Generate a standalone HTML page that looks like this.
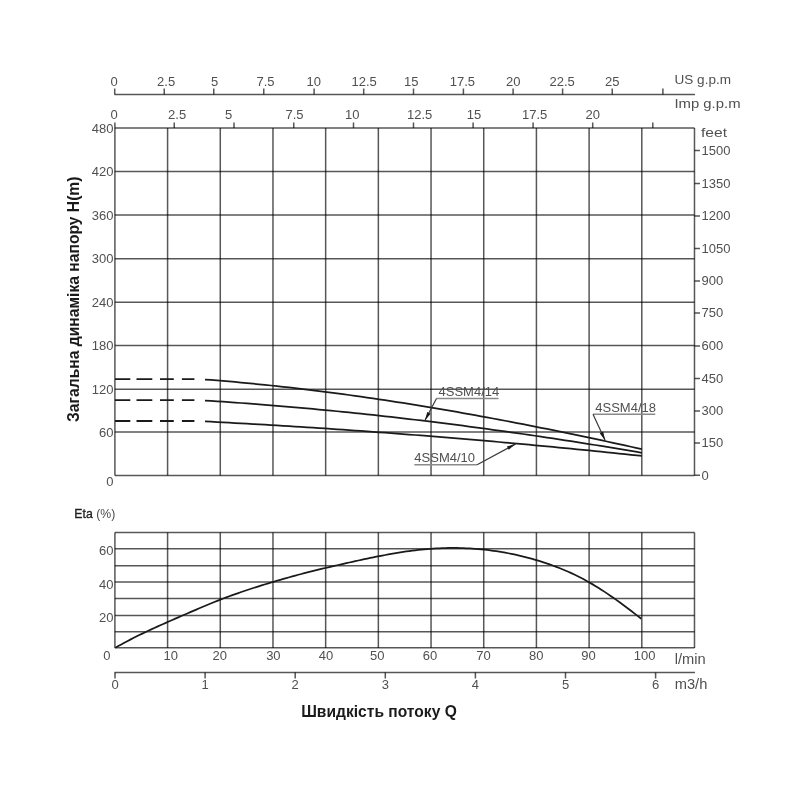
<!DOCTYPE html><html><head><meta charset="utf-8"><style>html,body{margin:0;padding:0;background:#fff;}svg{display:block;will-change:transform}</style></head><body>
<svg width="800" height="800" viewBox="0 0 800 800">
<rect width="800" height="800" fill="#fff"/>
<path d="M114.90 128.00V475.40M114.90 532.50V648.00M167.59 128.00V475.40M167.59 532.50V648.00M220.28 128.00V475.40M220.28 532.50V648.00M272.97 128.00V475.40M272.97 532.50V648.00M325.66 128.00V475.40M325.66 532.50V648.00M378.35 128.00V475.40M378.35 532.50V648.00M431.04 128.00V475.40M431.04 532.50V648.00M483.73 128.00V475.40M483.73 532.50V648.00M536.42 128.00V475.40M536.42 532.50V648.00M589.11 128.00V475.40M589.11 532.50V648.00M641.80 128.00V475.40M641.80 532.50V648.00M694.49 128.00V475.40M694.49 532.50V648.00M114.70 94.5v-6M164.25 94.5v-6M213.75 94.5v-6M263.75 94.5v-6M314.10 94.5v-6M363.70 94.5v-6M413.50 94.5v-6M463.40 94.5v-6M513.10 94.5v-6M562.60 94.5v-6M612.25 94.5v-6M662.90 94.5v-6M114.90 128.0v-5.5M174.25 128.0v-5.5M234.00 128.0v-5.5M293.75 128.0v-5.5M353.50 128.0v-5.5M413.50 128.0v-5.5M473.10 128.0v-5.5M533.10 128.0v-5.5M592.70 128.0v-5.5M652.80 128.0v-5.5M115.00 672.5v6M205.10 672.5v6M295.20 672.5v6M385.30 672.5v6M475.40 672.5v6M565.50 672.5v6M655.60 672.5v6" stroke="#000" stroke-opacity="0.66" stroke-width="1.5" fill="none"/>
<path d="M114.90 128.00H694.49M114.90 171.60H694.49M114.90 215.10H694.49M114.90 258.70H694.49M114.90 302.30H694.49M114.90 345.60H694.49M114.90 389.20H694.49M114.90 432.10H694.49M114.90 475.40H694.49M114.90 532.50H694.49M114.90 548.85H694.49M114.90 565.80H694.49M114.90 582.10H694.49M114.90 598.40H694.49M114.90 615.40H694.49M114.90 631.80H694.49M114.90 647.80H694.49M114.5 94.5H695M114.5 672.5H695M694.49 475.20h5.5M694.49 443.00h5.5M694.49 411.00h5.5M694.49 378.40h5.5M694.49 346.00h5.5M694.49 313.10h5.5M694.49 281.00h5.5M694.49 248.50h5.5M694.49 216.00h5.5M694.49 183.60h5.5M694.49 150.40h5.5" stroke="#000" stroke-opacity="0.66" stroke-width="1.5" fill="none"/>
<text x="114.05" y="86.30" text-anchor="middle" font-size="13" fill="#505050" font-family="Liberation Sans, sans-serif" >0</text>
<text x="166.10" y="86.30" text-anchor="middle" font-size="13" fill="#505050" font-family="Liberation Sans, sans-serif" >2.5</text>
<text x="214.60" y="86.30" text-anchor="middle" font-size="13" fill="#505050" font-family="Liberation Sans, sans-serif" >5</text>
<text x="265.50" y="86.30" text-anchor="middle" font-size="13" fill="#505050" font-family="Liberation Sans, sans-serif" >7.5</text>
<text x="313.75" y="86.30" text-anchor="middle" font-size="13" fill="#505050" font-family="Liberation Sans, sans-serif" >10</text>
<text x="364.10" y="86.30" text-anchor="middle" font-size="13" fill="#505050" font-family="Liberation Sans, sans-serif" >12.5</text>
<text x="411.25" y="86.30" text-anchor="middle" font-size="13" fill="#505050" font-family="Liberation Sans, sans-serif" >15</text>
<text x="462.40" y="86.30" text-anchor="middle" font-size="13" fill="#505050" font-family="Liberation Sans, sans-serif" >17.5</text>
<text x="513.25" y="86.30" text-anchor="middle" font-size="13" fill="#505050" font-family="Liberation Sans, sans-serif" >20</text>
<text x="562.20" y="86.30" text-anchor="middle" font-size="13" fill="#505050" font-family="Liberation Sans, sans-serif" >22.5</text>
<text x="612.15" y="86.30" text-anchor="middle" font-size="13" fill="#505050" font-family="Liberation Sans, sans-serif" >25</text>
<text x="114.05" y="118.80" text-anchor="middle" font-size="13" fill="#505050" font-family="Liberation Sans, sans-serif" >0</text>
<text x="177.15" y="118.80" text-anchor="middle" font-size="13" fill="#505050" font-family="Liberation Sans, sans-serif" >2.5</text>
<text x="228.70" y="118.80" text-anchor="middle" font-size="13" fill="#505050" font-family="Liberation Sans, sans-serif" >5</text>
<text x="294.50" y="118.80" text-anchor="middle" font-size="13" fill="#505050" font-family="Liberation Sans, sans-serif" >7.5</text>
<text x="352.20" y="118.80" text-anchor="middle" font-size="13" fill="#505050" font-family="Liberation Sans, sans-serif" >10</text>
<text x="419.70" y="118.80" text-anchor="middle" font-size="13" fill="#505050" font-family="Liberation Sans, sans-serif" >12.5</text>
<text x="473.90" y="118.80" text-anchor="middle" font-size="13" fill="#505050" font-family="Liberation Sans, sans-serif" >15</text>
<text x="534.70" y="118.80" text-anchor="middle" font-size="13" fill="#505050" font-family="Liberation Sans, sans-serif" >17.5</text>
<text x="592.65" y="118.80" text-anchor="middle" font-size="13" fill="#505050" font-family="Liberation Sans, sans-serif" >20</text>
<text x="674.50" y="84.00" text-anchor="start" font-size="12.5" fill="#505050" font-family="Liberation Sans, sans-serif" textLength="56.5" lengthAdjust="spacingAndGlyphs">US g.p.m</text>
<text x="674.50" y="108.00" text-anchor="start" font-size="12.5" fill="#505050" font-family="Liberation Sans, sans-serif" textLength="66" lengthAdjust="spacingAndGlyphs">Imp g.p.m</text>
<text x="701.00" y="137.00" text-anchor="start" font-size="12.5" fill="#505050" font-family="Liberation Sans, sans-serif" textLength="26" lengthAdjust="spacingAndGlyphs">feet</text>
<text x="113.50" y="132.60" text-anchor="end" font-size="13" fill="#505050" font-family="Liberation Sans, sans-serif" >480</text>
<text x="113.50" y="176.20" text-anchor="end" font-size="13" fill="#505050" font-family="Liberation Sans, sans-serif" >420</text>
<text x="113.50" y="219.70" text-anchor="end" font-size="13" fill="#505050" font-family="Liberation Sans, sans-serif" >360</text>
<text x="113.50" y="263.30" text-anchor="end" font-size="13" fill="#505050" font-family="Liberation Sans, sans-serif" >300</text>
<text x="113.50" y="306.90" text-anchor="end" font-size="13" fill="#505050" font-family="Liberation Sans, sans-serif" >240</text>
<text x="113.50" y="350.20" text-anchor="end" font-size="13" fill="#505050" font-family="Liberation Sans, sans-serif" >180</text>
<text x="113.50" y="393.80" text-anchor="end" font-size="13" fill="#505050" font-family="Liberation Sans, sans-serif" >120</text>
<text x="113.50" y="436.70" text-anchor="end" font-size="13" fill="#505050" font-family="Liberation Sans, sans-serif" >60</text>
<text x="113.50" y="486.30" text-anchor="end" font-size="13" fill="#505050" font-family="Liberation Sans, sans-serif" >0</text>
<text x="701.50" y="479.50" text-anchor="start" font-size="13" fill="#505050" font-family="Liberation Sans, sans-serif" >0</text>
<text x="701.50" y="447.30" text-anchor="start" font-size="13" fill="#505050" font-family="Liberation Sans, sans-serif" >150</text>
<text x="701.50" y="415.30" text-anchor="start" font-size="13" fill="#505050" font-family="Liberation Sans, sans-serif" >300</text>
<text x="701.50" y="382.70" text-anchor="start" font-size="13" fill="#505050" font-family="Liberation Sans, sans-serif" >450</text>
<text x="701.50" y="350.30" text-anchor="start" font-size="13" fill="#505050" font-family="Liberation Sans, sans-serif" >600</text>
<text x="701.50" y="317.40" text-anchor="start" font-size="13" fill="#505050" font-family="Liberation Sans, sans-serif" >750</text>
<text x="701.50" y="285.30" text-anchor="start" font-size="13" fill="#505050" font-family="Liberation Sans, sans-serif" >900</text>
<text x="701.50" y="252.80" text-anchor="start" font-size="13" fill="#505050" font-family="Liberation Sans, sans-serif" >1050</text>
<text x="701.50" y="220.30" text-anchor="start" font-size="13" fill="#505050" font-family="Liberation Sans, sans-serif" >1200</text>
<text x="701.50" y="187.90" text-anchor="start" font-size="13" fill="#505050" font-family="Liberation Sans, sans-serif" >1350</text>
<text x="701.50" y="154.70" text-anchor="start" font-size="13" fill="#505050" font-family="Liberation Sans, sans-serif" >1500</text>
<text x="113.50" y="555.45" text-anchor="end" font-size="13" fill="#505050" font-family="Liberation Sans, sans-serif" >60</text>
<text x="113.50" y="588.70" text-anchor="end" font-size="13" fill="#505050" font-family="Liberation Sans, sans-serif" >40</text>
<text x="113.50" y="622.00" text-anchor="end" font-size="13" fill="#505050" font-family="Liberation Sans, sans-serif" >20</text>
<text x="110.50" y="660.20" text-anchor="end" font-size="13" fill="#505050" font-family="Liberation Sans, sans-serif" >0</text>
<text x="170.69" y="659.60" text-anchor="middle" font-size="13" fill="#505050" font-family="Liberation Sans, sans-serif" >10</text>
<text x="219.78" y="659.60" text-anchor="middle" font-size="13" fill="#505050" font-family="Liberation Sans, sans-serif" >20</text>
<text x="273.37" y="659.60" text-anchor="middle" font-size="13" fill="#505050" font-family="Liberation Sans, sans-serif" >30</text>
<text x="325.91" y="659.60" text-anchor="middle" font-size="13" fill="#505050" font-family="Liberation Sans, sans-serif" >40</text>
<text x="377.35" y="659.60" text-anchor="middle" font-size="13" fill="#505050" font-family="Liberation Sans, sans-serif" >50</text>
<text x="430.04" y="659.60" text-anchor="middle" font-size="13" fill="#505050" font-family="Liberation Sans, sans-serif" >60</text>
<text x="483.48" y="659.60" text-anchor="middle" font-size="13" fill="#505050" font-family="Liberation Sans, sans-serif" >70</text>
<text x="536.17" y="659.60" text-anchor="middle" font-size="13" fill="#505050" font-family="Liberation Sans, sans-serif" >80</text>
<text x="588.51" y="659.60" text-anchor="middle" font-size="13" fill="#505050" font-family="Liberation Sans, sans-serif" >90</text>
<text x="644.65" y="659.60" text-anchor="middle" font-size="13" fill="#505050" font-family="Liberation Sans, sans-serif" >100</text>
<text x="674.75" y="664.00" text-anchor="start" font-size="14" fill="#505050" font-family="Liberation Sans, sans-serif" textLength="31" lengthAdjust="spacingAndGlyphs">l/min</text>
<text x="115.00" y="688.60" text-anchor="middle" font-size="13" fill="#505050" font-family="Liberation Sans, sans-serif" >0</text>
<text x="205.10" y="688.60" text-anchor="middle" font-size="13" fill="#505050" font-family="Liberation Sans, sans-serif" >1</text>
<text x="295.20" y="688.60" text-anchor="middle" font-size="13" fill="#505050" font-family="Liberation Sans, sans-serif" >2</text>
<text x="385.30" y="688.60" text-anchor="middle" font-size="13" fill="#505050" font-family="Liberation Sans, sans-serif" >3</text>
<text x="475.40" y="688.60" text-anchor="middle" font-size="13" fill="#505050" font-family="Liberation Sans, sans-serif" >4</text>
<text x="565.50" y="688.60" text-anchor="middle" font-size="13" fill="#505050" font-family="Liberation Sans, sans-serif" >5</text>
<text x="655.60" y="688.60" text-anchor="middle" font-size="13" fill="#505050" font-family="Liberation Sans, sans-serif" >6</text>
<text x="674.75" y="689.20" text-anchor="start" font-size="14" fill="#505050" font-family="Liberation Sans, sans-serif" textLength="32.6" lengthAdjust="spacingAndGlyphs">m3/h</text>
<text x="74.3" y="518.3" font-size="13" font-family="Liberation Sans, sans-serif" textLength="41" lengthAdjust="spacingAndGlyphs"><tspan fill="#1e1e1e" stroke="#1e1e1e" stroke-width="0.35">Eta</tspan><tspan fill="#4a4a4a"> (%)</tspan></text>
<text x="0" y="0" transform="translate(78.5 422) rotate(-90)" font-size="16" font-weight="bold" fill="#1a1a1a" font-family="Liberation Sans, sans-serif" textLength="245.5" lengthAdjust="spacingAndGlyphs">Загальна динаміка напору H(m)</text>
<text x="301.2" y="716.6" font-size="16.4" font-weight="bold" fill="#1a1a1a" font-family="Liberation Sans, sans-serif" textLength="155.6" lengthAdjust="spacingAndGlyphs">Швидкість потоку Q</text>
<path d="M205.00 379.51 L211.00 379.97 L217.00 380.45 L223.00 380.94 L229.00 381.45 L235.00 381.98 L241.00 382.53 L247.00 383.09 L253.00 383.67 L259.00 384.26 L265.00 384.87 L271.00 385.50 L277.00 386.14 L283.00 386.79 L289.00 387.47 L295.00 388.15 L301.00 388.85 L307.00 389.57 L313.00 390.30 L319.00 391.05 L325.00 391.81 L331.00 392.59 L337.00 393.38 L343.00 394.18 L349.00 395.00 L355.00 395.84 L361.00 396.68 L367.00 397.54 L373.00 398.42 L379.00 399.30 L385.00 400.20 L391.00 401.11 L397.00 402.04 L403.00 402.98 L409.00 403.93 L415.00 404.89 L421.00 405.87 L427.00 406.86 L433.00 407.86 L439.00 408.87 L445.00 409.90 L451.00 410.93 L457.00 411.98 L463.00 413.04 L469.00 414.11 L475.00 415.19 L481.00 416.28 L487.00 417.38 L493.00 418.50 L499.00 419.62 L505.00 420.75 L511.00 421.90 L517.00 423.05 L523.00 424.22 L529.00 425.39 L535.00 426.58 L541.00 427.77 L547.00 428.98 L553.00 430.19 L559.00 431.41 L565.00 432.64 L571.00 433.88 L577.00 435.13 L583.00 436.39 L589.00 437.65 L595.00 438.92 L601.00 440.21 L607.00 441.50 L613.00 442.79 L619.00 444.10 L625.00 445.41 L631.00 446.73 L637.00 448.06 L641.90 449.15" stroke="#1a1a1a" stroke-width="1.75" fill="none" stroke-linejoin="round"/>
<path d="M115 379.11H130.3M136.5 379.11H152.3M160 379.11H173.8M181.9 379.11H194.4" stroke="#1a1a1a" stroke-width="1.9" fill="none"/>
<path d="M205.00 400.57 L211.00 400.95 L217.00 401.34 L223.00 401.74 L229.00 402.15 L235.00 402.57 L241.00 403.00 L247.00 403.44 L253.00 403.90 L259.00 404.36 L265.00 404.83 L271.00 405.31 L277.00 405.80 L283.00 406.30 L289.00 406.81 L295.00 407.33 L301.00 407.87 L307.00 408.41 L313.00 408.96 L319.00 409.52 L325.00 410.08 L331.00 410.66 L337.00 411.25 L343.00 411.85 L349.00 412.46 L355.00 413.07 L361.00 413.70 L367.00 414.33 L373.00 414.98 L379.00 415.63 L385.00 416.30 L391.00 416.97 L397.00 417.65 L403.00 418.34 L409.00 419.04 L415.00 419.75 L421.00 420.47 L427.00 421.19 L433.00 421.93 L439.00 422.67 L445.00 423.42 L451.00 424.19 L457.00 424.96 L463.00 425.74 L469.00 426.52 L475.00 427.32 L481.00 428.13 L487.00 428.94 L493.00 429.76 L499.00 430.59 L505.00 431.43 L511.00 432.28 L517.00 433.14 L523.00 434.00 L529.00 434.87 L535.00 435.75 L541.00 436.64 L547.00 437.54 L553.00 438.45 L559.00 439.36 L565.00 440.28 L571.00 441.21 L577.00 442.15 L583.00 443.09 L589.00 444.05 L595.00 445.01 L601.00 445.98 L607.00 446.95 L613.00 447.94 L619.00 448.93 L625.00 449.93 L631.00 450.94 L637.00 451.95 L641.90 452.79" stroke="#1a1a1a" stroke-width="1.75" fill="none" stroke-linejoin="round"/>
<path d="M115 400.17H130.3M136.5 400.17H152.3M160 400.17H173.8M181.9 400.17H194.4" stroke="#1a1a1a" stroke-width="1.9" fill="none"/>
<path d="M205.00 421.41 L211.00 421.72 L217.00 422.04 L223.00 422.35 L229.00 422.68 L235.00 423.01 L241.00 423.34 L247.00 423.67 L253.00 424.02 L259.00 424.36 L265.00 424.71 L271.00 425.07 L277.00 425.43 L283.00 425.80 L289.00 426.17 L295.00 426.54 L301.00 426.92 L307.00 427.30 L313.00 427.69 L319.00 428.09 L325.00 428.48 L331.00 428.89 L337.00 429.29 L343.00 429.70 L349.00 430.12 L355.00 430.54 L361.00 430.97 L367.00 431.40 L373.00 431.83 L379.00 432.27 L385.00 432.71 L391.00 433.16 L397.00 433.61 L403.00 434.07 L409.00 434.53 L415.00 435.00 L421.00 435.47 L427.00 435.95 L433.00 436.43 L439.00 436.91 L445.00 437.40 L451.00 437.89 L457.00 438.39 L463.00 438.89 L469.00 439.40 L475.00 439.91 L481.00 440.43 L487.00 440.95 L493.00 441.48 L499.00 442.00 L505.00 442.54 L511.00 443.08 L517.00 443.62 L523.00 444.17 L529.00 444.72 L535.00 445.28 L541.00 445.84 L547.00 446.40 L553.00 446.97 L559.00 447.54 L565.00 448.12 L571.00 448.71 L577.00 449.29 L583.00 449.88 L589.00 450.48 L595.00 451.08 L601.00 451.68 L607.00 452.29 L613.00 452.91 L619.00 453.52 L625.00 454.15 L631.00 454.77 L637.00 455.40 L641.90 455.92" stroke="#1a1a1a" stroke-width="1.75" fill="none" stroke-linejoin="round"/>
<path d="M115 421.01H130.3M136.5 421.01H152.3M160 421.01H173.8M181.9 421.01H194.4" stroke="#1a1a1a" stroke-width="1.9" fill="none"/>
<path d="M115.30 647.77 L118.30 646.07 L121.30 644.41 L124.30 642.78 L127.30 641.19 L130.30 639.62 L133.30 638.09 L136.30 636.58 L139.30 635.09 L142.30 633.63 L145.30 632.20 L148.30 630.78 L151.30 629.38 L154.30 628.00 L157.30 626.63 L160.30 625.28 L163.30 623.94 L166.30 622.61 L169.30 621.29 L172.30 619.98 L175.30 618.67 L178.30 617.37 L181.30 616.07 L184.30 614.76 L187.30 613.46 L190.30 612.16 L193.30 610.87 L196.30 609.58 L199.30 608.29 L202.30 607.02 L205.30 605.76 L208.30 604.51 L211.30 603.28 L214.30 602.06 L217.30 600.86 L220.30 599.68 L223.30 598.53 L226.30 597.39 L229.30 596.28 L232.30 595.19 L235.30 594.11 L238.30 593.06 L241.30 592.02 L244.30 591.00 L247.30 590.00 L250.30 589.01 L253.30 588.04 L256.30 587.08 L259.30 586.13 L262.30 585.20 L265.30 584.28 L268.30 583.37 L271.30 582.46 L274.30 581.57 L277.30 580.69 L280.30 579.82 L283.30 578.95 L286.30 578.10 L289.30 577.25 L292.30 576.42 L295.30 575.60 L298.30 574.78 L301.30 573.98 L304.30 573.19 L307.30 572.41 L310.30 571.64 L313.30 570.88 L316.30 570.14 L319.30 569.41 L322.30 568.68 L325.30 567.98 L328.30 567.28 L331.30 566.59 L334.30 565.91 L337.30 565.23 L340.30 564.55 L343.30 563.87 L346.30 563.20 L349.30 562.52 L352.30 561.85 L355.30 561.19 L358.30 560.52 L361.30 559.87 L364.30 559.22 L367.30 558.59 L370.30 557.96 L373.30 557.34 L376.30 556.73 L379.30 556.14 L382.30 555.55 L385.30 554.99 L388.30 554.43 L391.30 553.90 L394.30 553.38 L397.30 552.88 L400.30 552.39 L403.30 551.93 L406.30 551.49 L409.30 551.07 L412.30 550.67 L415.30 550.30 L418.30 549.95 L421.30 549.62 L424.30 549.33 L427.30 549.06 L430.30 548.82 L433.30 548.61 L436.30 548.42 L439.30 548.27 L442.30 548.15 L445.30 548.06 L448.30 547.99 L451.30 547.96 L454.30 547.96 L457.30 547.99 L460.30 548.05 L463.30 548.14 L466.30 548.26 L469.30 548.41 L472.30 548.60 L475.30 548.81 L478.30 549.06 L481.30 549.33 L484.30 549.64 L487.30 549.98 L490.30 550.35 L493.30 550.76 L496.30 551.19 L499.30 551.66 L502.30 552.16 L505.30 552.69 L508.30 553.26 L511.30 553.85 L514.30 554.48 L517.30 555.15 L520.30 555.84 L523.30 556.57 L526.30 557.33 L529.30 558.13 L532.30 558.95 L535.30 559.82 L538.30 560.71 L541.30 561.64 L544.30 562.61 L547.30 563.61 L550.30 564.65 L553.30 565.73 L556.30 566.86 L559.30 568.03 L562.30 569.24 L565.30 570.50 L568.30 571.80 L571.30 573.16 L574.30 574.56 L577.30 576.02 L580.30 577.53 L583.30 579.09 L586.30 580.72 L589.30 582.39 L592.30 584.13 L595.30 585.93 L598.30 587.78 L601.30 589.68 L604.30 591.63 L607.30 593.62 L610.30 595.67 L613.30 597.75 L616.30 599.88 L619.30 602.04 L622.30 604.24 L625.30 606.47 L628.30 608.73 L631.30 611.02 L634.30 613.34 L637.30 615.67 L640.30 618.03 L641.20 618.75" stroke="#1a1a1a" stroke-width="1.75" fill="none" stroke-linejoin="round"/>
<text x="438.50" y="395.90" text-anchor="start" font-size="13" fill="#505050" font-family="Liberation Sans, sans-serif" >4SSM4/14</text>
<text x="595.25" y="412.00" text-anchor="start" font-size="13" fill="#505050" font-family="Liberation Sans, sans-serif" >4SSM4/18</text>
<text x="414.35" y="462.35" text-anchor="start" font-size="13" fill="#505050" font-family="Liberation Sans, sans-serif" >4SSM4/10</text>
<path d="M498.5 398.5H436.5M655.25 414.2H593M414.35 464.8H477.1" stroke="#8a8a8a" stroke-width="1.4" fill="none"/>
<path d="M436.5 398.5L424.75 420.75M593 414.2L605.2 440.5M477.1 464.8L515.75 443.85" stroke="#3a3a3a" stroke-width="1.2" fill="none"/>
<path d="M424.75 420.75L427.27 411.90L430.63 413.68ZM605.20 440.50L599.69 433.14L603.14 431.54ZM515.75 443.85L508.74 449.81L506.93 446.47Z" fill="#1a1a1a"/>
</svg></body></html>
